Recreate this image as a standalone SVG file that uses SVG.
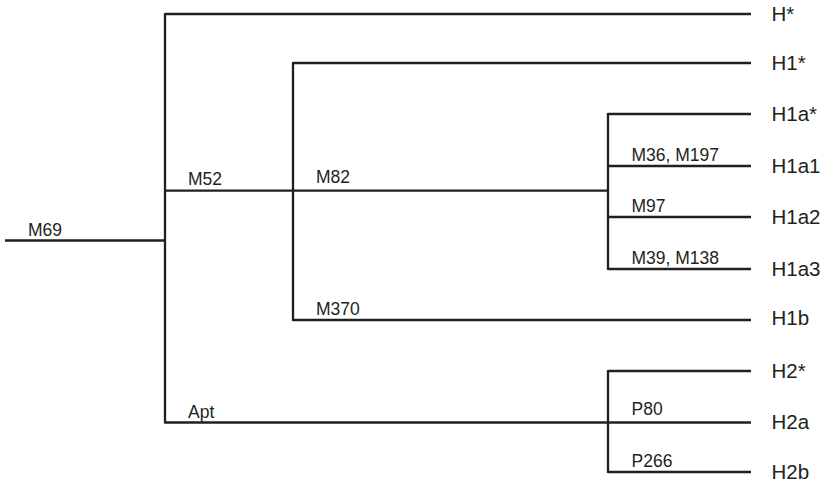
<svg xmlns="http://www.w3.org/2000/svg" width="825" height="483" viewBox="0 0 825 483">
<style>
.e{stroke:#231f20;stroke-width:2.3;fill:none;stroke-linecap:butt}
.b{font-family:"Liberation Sans",Arial,sans-serif;font-size:17.5px;fill:#231f20}
.t{font-family:"Liberation Sans",Arial,sans-serif;font-size:20.5px;fill:#231f20}
</style>
<rect width="825" height="483" fill="#fff"/>
<g id="connectors">
<path class="e" d="M5,240.5H165"/>
<path class="e" d="M165,13V423.5"/>
<path class="e" d="M165,14H751"/>
<path class="e" d="M165,190.7H608"/>
<path class="e" d="M165,422.5H751"/>
<path class="e" d="M293,62V321"/>
<path class="e" d="M293,63H751"/>
<path class="e" d="M293,320H751"/>
<path class="e" d="M608,113V270"/>
<path class="e" d="M608,114H751"/>
<path class="e" d="M608,166H751"/>
<path class="e" d="M608,217H751"/>
<path class="e" d="M608,269H751"/>
<path class="e" d="M608,370V473"/>
<path class="e" d="M608,371H751"/>
<path class="e" d="M608,472H751"/>
</g>
<g id="branch-labels">
<text class="b" x="28" y="236">M69</text>
<text class="b" x="188" y="185">M52</text>
<text class="b" x="316" y="182.7">M82</text>
<text class="b" x="316" y="315">M370</text>
<text class="b" x="188" y="418.3">Apt</text>
<text class="b" x="631.5" y="160.7">M36, M197</text>
<text class="b" x="631.5" y="212">M97</text>
<text class="b" x="631.5" y="263.5">M39, M138</text>
<text class="b" x="631.5" y="415">P80</text>
<text class="b" x="631.5" y="467.3">P266</text>
</g>
<g id="node-H"><text class="t" x="771.5" y="20.7">H*</text></g>
<g id="node-H1"><text class="t" x="771.5" y="69.7">H1*</text></g>
<g id="node-H1a"><text class="t" x="771.5" y="121">H1a*</text></g>
<g id="node-H1a1"><text class="t" x="771.5" y="173.3">H1a1</text></g>
<g id="node-H1a2"><text class="t" x="771.5" y="224.3">H1a2</text></g>
<g id="node-H1a3"><text class="t" x="771.5" y="276">H1a3</text></g>
<g id="node-H1b"><text class="t" x="771.5" y="325">H1b</text></g>
<g id="node-H2"><text class="t" x="771.5" y="377.7">H2*</text></g>
<g id="node-H2a"><text class="t" x="771.5" y="429">H2a</text></g>
<g id="node-H2b"><text class="t" x="771.5" y="479">H2b</text></g>
</svg>
